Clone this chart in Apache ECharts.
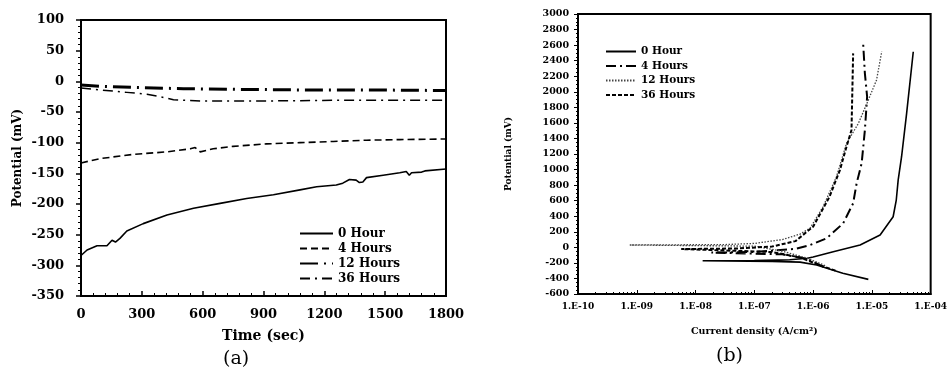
<!DOCTYPE html>
<html>
<head>
<meta charset="utf-8">
<script src="https://cdn.jsdelivr.net/npm/echarts@6/dist/echarts.min.js"></script>
<style>
  html, body { margin: 0; padding: 0; background: #fff; }
  #chart { width: 950px; height: 372px; }
</style>
</head>
<body>
<div id="chart"></div>
<script>
// (a) open circuit potential vs time  [time (sec), potential (mV)]
var legendNames = ['0 Hour', '4 Hours', '12 Hours', '36 Hours'];

var ocp0h = [[0, -284], [30, -275], [79, -268], [128, -268], [153, -259], [170, -262], [192, -256],
    [226, -244], [307, -232], [424, -218], [555, -207], [686, -199], [817, -191], [949, -185],
    [1080, -177], [1162, -172], [1259, -169], [1291, -166], [1324, -160], [1357, -161], [1373, -165],
    [1390, -164], [1408, -157], [1490, -153], [1572, -149], [1604, -147], [1619, -153], [1630, -149],
    [1680, -148], [1688, -151], [1696, -146], [1800, -143]];
var ocp4h = [[0, -133], [95, -126], [259, -119], [424, -115], [539, -110], [563, -108], [588, -115],
    [652, -110], [750, -106], [915, -102], [1080, -100], [1244, -98], [1408, -96], [1572, -95], [1800, -94]];
var ocp12h = [[0, -6], [95, -8], [259, -10], [505, -12], [750, -13], [1080, -14], [1408, -14], [1800, -15]];
var ocp36h = [[0, -11], [95, -14], [226, -18], [325, -21], [390, -25], [456, -30], [588, -32],
    [915, -32], [1244, -31], [1800, -31]];

// (b) polarisation curves  [current density (A/cm2), potential (mV)]
var pol0h = [[8.7e-6, -412], [3.2e-6, -334], [1.15e-6, -228], [6e-7, -190], [2e-7, -180], [1.32e-8, -172],
    [1e-7, -169], [4e-7, -160], [8e-7, -140], [1e-6, -125], [2.2e-6, -56], [6.3e-6, 30], [1.38e-5, 158],
    [2.3e-5, 393], [2.6e-5, 608], [2.8e-5, 865], [3.2e-5, 1165], [3.9e-5, 1723], [5.06e-5, 2515]];
var pol4h = [[1.5e-6, -250], [8e-7, -150], [3e-7, -90], [1.86e-8, -68], [1e-7, -60], [5e-7, -20],
    [8.9e-7, 30], [1.7e-6, 116], [3.25e-6, 309], [4.8e-6, 566], [5.5e-6, 823], [6.7e-6, 1080],
    [7.6e-6, 1508], [8.3e-6, 1936], [7.6e-6, 2237], [7.1e-6, 2623]];
var pol12h = [[1.6e-6, -235], [8e-7, -140], [3e-7, -50], [1e-7, 15], [7.6e-10, 30], [3e-8, 35],
    [1e-7, 50], [3e-7, 100], [6e-7, 170], [8.9e-7, 248], [1.48e-6, 522], [2.5e-6, 908], [3.7e-6, 1337],
    [5.9e-6, 1594], [8.7e-6, 1894], [1.2e-5, 2151], [1.47e-5, 2515]];
var pol36h = [[2.4e-6, -300], [1.2e-6, -220], [6e-7, -130], [2e-7, -60], [5.7e-9, -22], [5e-8, -15],
    [2e-7, 10], [5e-7, 80], [1e-6, 265], [1.9e-6, 650], [2.86e-6, 994], [3.7e-6, 1293],
    [4.5e-6, 1508], [4.8e-6, 2494]];

var serif = '"DejaVu Serif", "Liberation Serif", serif';
var chart = echarts.init(document.getElementById('chart'));

function lbl(size) {
    return { color: '#000', fontFamily: serif, fontWeight: 'bold', fontSize: size };
}
function plain(v) { return String(v); }
function logLabel(v) {
    var e = Math.round(Math.log10(v));
    var s = String(Math.abs(e));
    if (s.length < 2) s = '0' + s;
    return '1.E' + (e < 0 ? '-' : '+') + s;
}
function line(name, data, idx, width, type, color) {
    return {
        name: name, type: 'line', data: data, xAxisIndex: idx, yAxisIndex: idx,
        symbol: 'none', silent: true,
        itemStyle: { color: color || '#000' },
        lineStyle: { color: color || '#000', width: width, type: type }
    };
}

chart.setOption({
    animation: false,
    grid: [
        { left: 81, top: 20, width: 365, height: 276, show: true, borderColor: '#000', borderWidth: 2 },
        { left: 578, top: 14, width: 353, height: 280, show: true, borderColor: '#000', borderWidth: 2 }
    ],
    legend: [
        {
            orient: 'vertical', left: 294, top: 222, itemWidth: 33, itemHeight: 10, itemGap: 2,
            data: legendNames.map(function (n) { return 'a:' + n; }),
            formatter: function (n) { return n.slice(2); },
            itemStyle: { opacity: 0 },
            textStyle: Object.assign({ lineHeight: 13 }, lbl(12)), selectedMode: false
        },
        {
            orient: 'vertical', left: 600, top: 41, itemWidth: 30, itemHeight: 10, itemGap: 3.5,
            data: legendNames.map(function (n) { return 'b:' + n; }),
            formatter: function (n) { return n.slice(2); },
            itemStyle: { opacity: 0 },
            textStyle: Object.assign({ lineHeight: 11 }, lbl(10.5)), selectedMode: false
        }
    ],
    xAxis: [
        {
            gridIndex: 0, type: 'value', min: 0, max: 1800, interval: 300,
            name: 'Time (sec)', nameLocation: 'middle', nameGap: 33, nameTextStyle: lbl(14),
            axisLine: { onZero: false, lineStyle: { color: '#000', width: 2 } },
            axisTick: { inside: true, length: 5, lineStyle: { color: '#000', width: 1.5 } },
            minorTick: { show: true, splitNumber: 5, length: 3, lineStyle: { color: '#000' } },
            axisLabel: Object.assign({ margin: 12, formatter: plain }, lbl(13)),
            splitLine: { show: false }
        },
        {
            gridIndex: 1, type: 'log', logBase: 10, min: 1e-10, max: 1e-4,
            name: 'Current density (A/cm²)', nameLocation: 'middle', nameGap: 33, nameTextStyle: lbl(9.5),
            axisLine: { onZero: false, lineStyle: { color: '#000', width: 2 } },
            axisTick: { inside: true, length: 4, lineStyle: { color: '#000' } },
            minorTick: { show: true, splitNumber: 9, length: 2, lineStyle: { color: '#000' } },
            axisLabel: Object.assign({ margin: 8, formatter: logLabel }, lbl(9)),
            splitLine: { show: false }
        }
    ],
    yAxis: [
        {
            gridIndex: 0, type: 'value', min: -350, max: 100, interval: 50,
            name: 'Potential (mV)', nameLocation: 'middle', nameGap: 57, nameTextStyle: lbl(12),
            axisLine: { onZero: false, lineStyle: { color: '#000', width: 2 } },
            axisTick: { inside: false, length: 5, lineStyle: { color: '#000', width: 1.5 } },
            minorTick: { show: true, splitNumber: 5, length: 3, lineStyle: { color: '#000' } },
            axisLabel: Object.assign({ margin: 17, formatter: plain }, lbl(13)),
            splitLine: { show: false }
        },
        {
            gridIndex: 1, type: 'value', min: -600, max: 3000, interval: 200,
            name: 'Potential (mV)', nameLocation: 'middle', nameGap: 65, nameTextStyle: lbl(9),
            axisLine: { onZero: false, lineStyle: { color: '#000', width: 2 } },
            axisTick: { inside: false, length: 4, lineStyle: { color: '#000' } },
            minorTick: { show: true, splitNumber: 4, length: 2, lineStyle: { color: '#000' } },
            axisLabel: Object.assign({ margin: 9, formatter: plain }, lbl(9.5)),
            splitLine: { show: false }
        }
    ],
    graphic: [
        { type: 'text', left: 223, top: 350, style: { text: '(a)', font: '19px ' + serif, fill: '#000' } },
        { type: 'text', left: 716, top: 347, style: { text: '(b)', font: '19px ' + serif, fill: '#000' } }
    ],
    series: [
        line('a:0 Hour', ocp0h, 0, 1.6, 'solid'),
        line('a:4 Hours', ocp4h, 0, 1.6, [7, 4]),
        line('a:12 Hours', ocp12h, 0, 3, [18, 6, 2, 6]),
        line('a:36 Hours', ocp36h, 0, 1.5, [10, 5, 2, 5]),
        line('b:0 Hour', pol0h, 1, 1.6, 'solid'),
        line('b:4 Hours', pol4h, 1, 2, [10, 4, 2, 4]),
        line('b:12 Hours', pol12h, 1, 1.3, [1.5, 1.5], '#444'),
        line('b:36 Hours', pol36h, 1, 2, [4, 2])
    ]
});
</script>
</body>
</html>
